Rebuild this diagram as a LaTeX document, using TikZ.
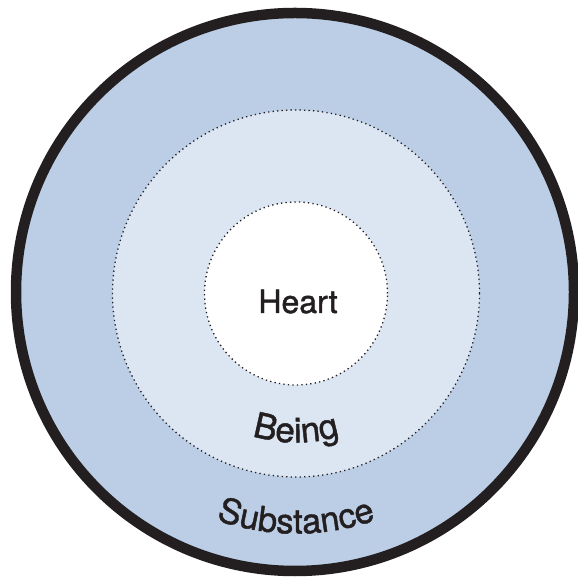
\documentclass[tikz,border=0pt]{standalone}
\usepackage{fontspec}
\setmainfont{TeX Gyre Heros}[FakeBold=1.3]
\usetikzlibrary{decorations.text}
\definecolor{ink}{RGB}{35,31,32}
\definecolor{outerblue}{RGB}{188,206,230}
\definecolor{midblue}{RGB}{220,229,242}
\tikzset{
  ringline/.style={draw=ink, line width=1.3pt, dash pattern=on 1.3pt off 3.2pt},
  arclabel/.style={decorate, decoration={text along path, text align=center,
     text color=ink}},
}
\begin{document}
\begin{tikzpicture}[x=1pt,y=1pt]
\useasboundingbox (0,0) rectangle (578,578);
\coordinate (c) at (296,284.5);
\coordinate (co) at (295,286);
\fill[outerblue] (co) circle (279);
\draw[ink, line width=10.5pt] (co) circle (279);
\path[fill=midblue, ringline] (c) circle (183.5);
\path[fill=white, ringline] (c) circle (91.5);
\node[text=ink, font=\fontsize{32}{36}\selectfont, anchor=base] (heart) at (298,265) {Heart};
\path[arclabel, decoration={text={|\fontsize{35}{40}\selectfont|Being}}]
  (c) ++(200:149) arc (200:340:149);
\path[arclabel, decoration={text={|\fontsize{34.5}{40}\selectfont|Substance}}]
  (c) ++(210:240) arc (210:330:240);
\end{tikzpicture}
\end{document}
